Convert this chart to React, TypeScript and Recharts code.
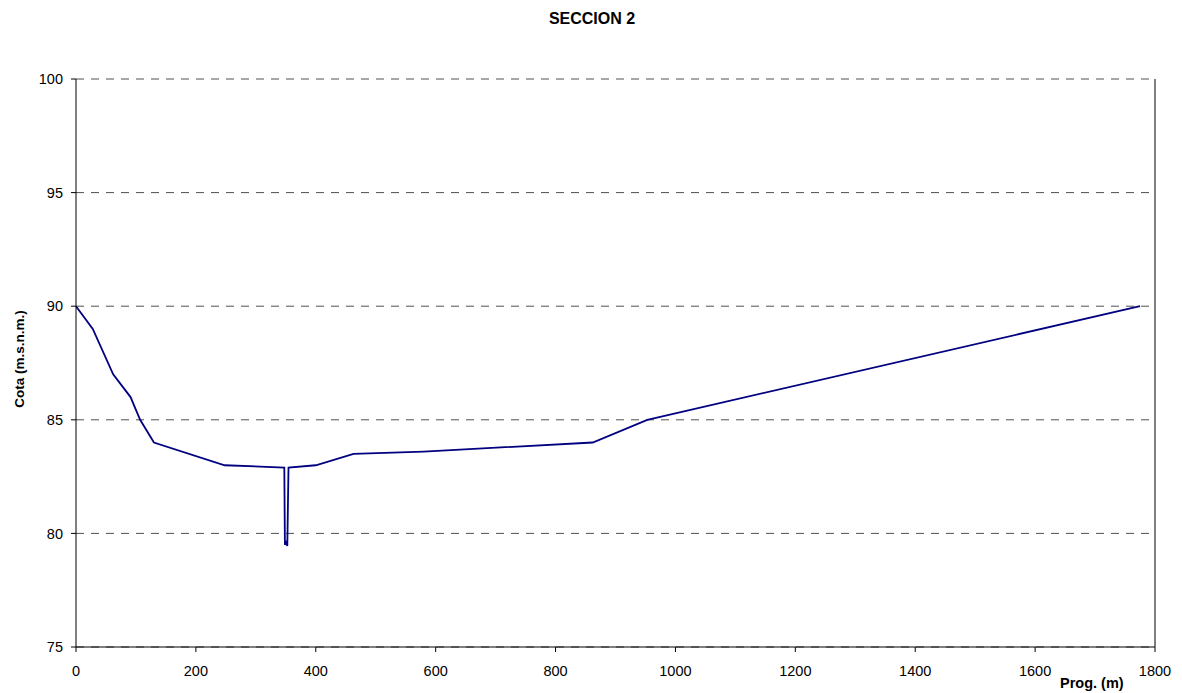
import React from 'react';
import { LineChart, Line, XAxis, YAxis, CartesianGrid, ReferenceLine } from 'recharts';

const prog = [0, 28, 62, 91, 107, 130, 248, 347.5, 348.5, 350.5, 352.5, 354.5, 400, 463, 580, 862, 953, 1775];
const cota = [90, 89, 87, 86, 85, 84, 83, 82.9, 79.5, 79.6, 79.45, 82.9, 83, 83.5, 83.6, 84, 85, 90];
const xTicks = [0, 200, 400, 600, 800, 1000, 1200, 1400, 1600, 1800];
const yTicks = [75, 80, 85, 90, 95, 100];

const data = prog.map((p, i) => ({ prog: p, cota: cota[i] }));

const font = 'Liberation Sans, Arial, sans-serif';

export default function App() {
  return (
    <div style={{ position: 'absolute', left: 0, top: 0, width: 1182, height: 693, background: '#fff', fontFamily: font }}>
      <div style={{ position: 'absolute', left: 592 - 150, width: 300, top: 9, textAlign: 'center', fontWeight: 'bold', fontSize: 16, lineHeight: '20px' }}>SECCION 2</div>
      <div style={{ position: 'absolute', left: 20 - 80, top: 359 - 8, width: 160, textAlign: 'center', transform: 'rotate(-90deg)', fontWeight: 'bold', fontSize: 13.5, lineHeight: '16px' }}>Cota (m.s.n.m.)</div>
      <div style={{ position: 'absolute', left: 1060, top: 675, fontWeight: 'bold', fontSize: 14.5, lineHeight: '16px' }}>Prog. (m)</div>
      <LineChart width={1182} height={693} data={data} margin={{ top: 79, right: 27, left: 0, bottom: 16 }}>
        <CartesianGrid vertical={false} stroke="#505050" strokeDasharray="8 7" />
        <XAxis dataKey="prog" type="number" domain={[0, 1800]} ticks={xTicks} stroke="#000" tickSize={5} tickMargin={14} height={30}
          tick={{ fill: '#000', fontSize: 14.5, fontFamily: font }} allowDataOverflow />
        <YAxis type="number" domain={[75, 100]} ticks={yTicks} stroke="#000" tickSize={5} tickMargin={8} width={76}
          tick={{ fill: '#000', fontSize: 14.5, fontFamily: font }} allowDataOverflow />
        <ReferenceLine x={1800} stroke="#000" />
        <Line dataKey="cota" stroke="#000080" strokeWidth={1.8} dot={false} isAnimationActive={false} />
      </LineChart>
    </div>
  );
}
